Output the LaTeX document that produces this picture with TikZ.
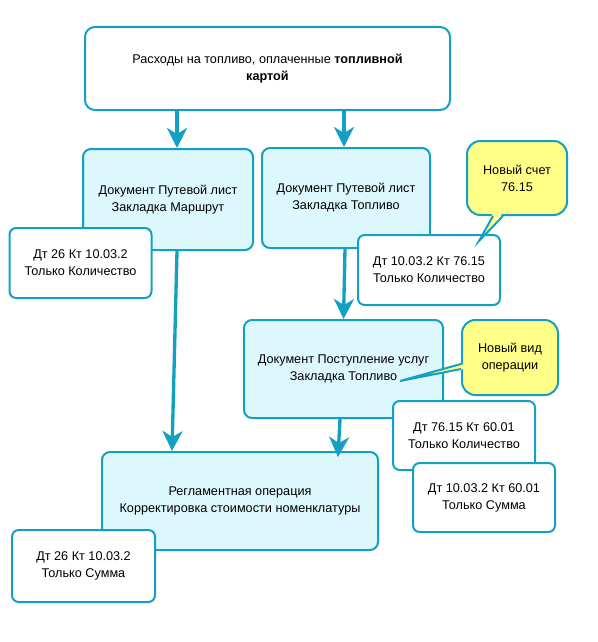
\documentclass[tikz,border=0pt]{standalone}
\usepackage{fontspec}
\setmainfont{Liberation Sans}
\usetikzlibrary{arrows.meta, calc}
\definecolor{boxblue}{RGB}{20,160,196}
\definecolor{boxfill}{RGB}{220,248,253}
\definecolor{noteyellow}{RGB}{255,255,136}

\begin{document}
\begin{tikzpicture}[x=0.75pt, y=-0.75pt,
        every node/.style={font=\fontsize{9.5}{12.75}\selectfont, align=center, inner sep=0pt},
        mainbox/.style={draw=boxblue, line width=1.5pt, rounded corners=7.5pt, fill=white},
        docbox/.style={draw=boxblue, line width=1.5pt, rounded corners=6pt, fill=boxfill},
        entrybox/.style={draw=boxblue, line width=1.5pt, rounded corners=5pt, fill=white, minimum width=106.5pt, minimum height=52.5pt},
        tipbox/.style={draw=boxblue, line width=1.5pt, rounded corners=10pt, fill=noteyellow, minimum width=73.5pt, minimum height=55.5pt},
        tailfill/.style={fill=noteyellow},
        tailline/.style={draw=boxblue, line width=1.5pt, line join=miter},
        flow/.style={draw=boxblue, line width=2.5pt, -{Stealth[length=15pt, width=15pt, inset=4.5pt]}}
    ]
    \useasboundingbox (0,0) rectangle (597,642);

    \node[mainbox, minimum width=273.75pt, minimum height=62.25pt] (fuel) at (267.5,68.5) {Расходы на топливо, оплаченные \textbf{топливной}\\ \textbf{картой}};

    \node[docbox, minimum width=127.5pt, minimum height=75.75pt] (route) at (168,199.5) {Документ Путевой лист\\ Закладка Маршрут};
    \node[entrybox] (routeEntry) at (80.5,263) {Дт 26 Кт 10.03.2\\ Только Количество};

    \node[docbox, minimum width=126pt, minimum height=75pt] (fuelDoc) at (346,198) {Документ Путевой лист\\ Закладка Топливо};
    \node[entrybox] (fuelEntry) at (429,270) {Дт 10.03.2 Кт 76.15\\ Только Количество};

    \node[docbox, minimum width=149.25pt, minimum height=73.5pt] (receipt) at (343.5,369) {Документ Поступление услуг\\ Закладка Топливо};
    \node[entrybox, minimum height=51.75pt] (receiptQty) at (464,435.5) {Дт 76.15 Кт 60.01\\ Только Количество};
    \node[entrybox, minimum height=51.75pt] (receiptSum) at (484,497.5) {Дт 10.03.2 Кт 60.01\\ Только Сумма};

    \node[docbox, minimum width=207pt, minimum height=73.5pt] (adjust) at (240,501) {Регламентная операция\\ Корректировка стоимости номенклатуры};
    \node[entrybox, minimum width=107.25pt, minimum height=54pt] (adjustEntry) at (83.5,566) {Дт 26 Кт 10.03.2\\ Только Сумма};

    \node[tipbox, minimum width=75pt] (newAccount) at (517,178) {Новый счет\\ 76.15};
    \coordinate (accountTip) at (479,241);
    \fill[tailfill] ($(newAccount.south)+(-24,-3)$) -- (accountTip) -- ($(newAccount.south)+(-14,-3)$) -- cycle;
    \draw[tailline] ($(newAccount.south)+(-24,0)$) -- (accountTip) -- ($(newAccount.south)+(-14,0)$);

    \node[tipbox, minimum width=72pt, minimum height=56.25pt] (newOp) at (510,357.5) {Новый вид\\ операции};
    \coordinate (opTip) at (400,381);
    \fill[tailfill] ($(newOp.west)+(3,6.5)$) -- (opTip) -- ($(newOp.west)+(3,11.5)$) -- cycle;
    \draw[tailline] ($(newOp.west)+(0,6.5)$) -- (opTip) -- ($(newOp.west)+(0,11.5)$);

    \coordinate (routeIn) at ($(route.north)+(9,0)$);
    \coordinate (fuelIn) at ($(fuelDoc.north)+(-2,0)$);
    \coordinate (adjustInA) at ($(adjust.north)+(-68,0)$);
    \coordinate (adjustInB) at ($(adjust.north)+(98,6)$);

    \draw[flow] (routeIn |- fuel.south) -- (routeIn);
    \draw[flow] (fuelIn |- fuel.south) -- (fuelIn);
    \draw[flow] (routeIn |- route.south) -- (adjustInA);
    \draw[flow] ($(fuelDoc.south)+(-1,0)$) -- (receipt.north);
    \draw[flow] ($(receipt.south)+(-3.5,0)$) -- (adjustInB);
\end{tikzpicture}
\end{document}
